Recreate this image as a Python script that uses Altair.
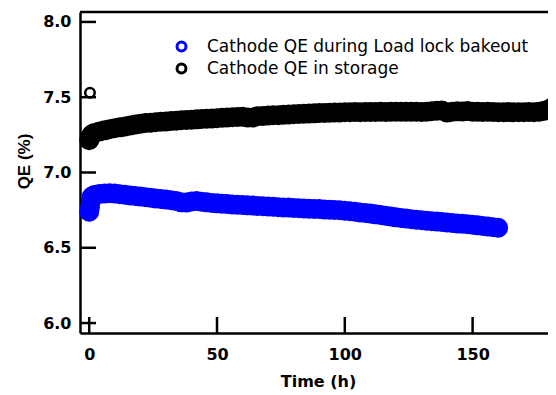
import altair as alt
import pandas as pd

# ---- data ----
blue_t = [0, 0.3, 0.6, 1] + list(range(2, 161, 2))
blue_qe = [6.74, 6.77, 6.81, 6.84,
           6.85, 6.857, 6.86, 6.862, 6.86, 6.856, 6.852, 6.848, 6.844, 6.84,
           6.836, 6.832, 6.828, 6.824, 6.82, 6.816, 6.81, 6.802, 6.80, 6.808,
           6.81, 6.806, 6.802, 6.798, 6.795, 6.793, 6.79, 6.788, 6.786, 6.784,
           6.782, 6.78, 6.778, 6.776, 6.774, 6.772, 6.77, 6.768, 6.767, 6.765,
           6.763, 6.761, 6.76, 6.758, 6.757, 6.755, 6.753, 6.751, 6.749, 6.746,
           6.743, 6.739, 6.735, 6.731, 6.727, 6.722, 6.717, 6.712, 6.707, 6.702,
           6.698, 6.694, 6.69, 6.686, 6.683, 6.68, 6.677, 6.674, 6.671, 6.668,
           6.665, 6.662, 6.659, 6.656, 6.653, 6.649, 6.645, 6.641, 6.637, 6.633]

black_t = [0, 0.3, 0.7, 1.2] + list(range(2, 181, 2)) + [181]
black_qe = [7.215, 7.23, 7.245, 7.255,
            7.262, 7.272, 7.28, 7.287, 7.294, 7.30, 7.306, 7.312, 7.318, 7.324,
            7.328, 7.331, 7.334, 7.337, 7.339, 7.342, 7.344, 7.347, 7.349, 7.351,
            7.353, 7.355, 7.357, 7.359, 7.361, 7.363, 7.365, 7.367, 7.368, 7.37,
            7.366, 7.365, 7.374, 7.376, 7.378, 7.38, 7.381, 7.383, 7.385, 7.387,
            7.389, 7.39, 7.392, 7.393, 7.395, 7.396, 7.397, 7.398, 7.399, 7.40,
            7.40, 7.401, 7.40, 7.402, 7.401, 7.402, 7.403, 7.402, 7.403, 7.404,
            7.403, 7.404, 7.403, 7.404, 7.402, 7.404, 7.407, 7.41, 7.411, 7.398,
            7.404, 7.406, 7.405, 7.408, 7.404, 7.403, 7.402, 7.403, 7.401, 7.40,
            7.40, 7.401, 7.40, 7.40, 7.40, 7.401, 7.40, 7.403, 7.41, 7.42,
            7.43]

outlier_t = [0.3]
outlier_qe = [7.53]

series_names = ["Cathode QE during Load lock bakeout", "Cathode QE in storage"]
series_colors = ["#0000ff", "#000000"]

x_ticks = [0, 50, 100, 150]
y_ticks = [6.0, 6.5, 7.0, 7.5, 8.0]
x_domain = [-3.6, 179.5]
y_domain = [5.934, 8.066]

df = pd.concat([
    pd.DataFrame({"t": blue_t, "qe": blue_qe, "series": series_names[0]}),
    pd.DataFrame({"t": black_t, "qe": black_qe, "series": series_names[1]}),
], ignore_index=True)
df_out = pd.DataFrame({"t": outlier_t, "qe": outlier_qe})
df_xt = pd.DataFrame({"t": x_ticks})
df_yt = pd.DataFrame({"qe": y_ticks})

W, H = 468, 321
xs = alt.Scale(domain=x_domain, nice=False, zero=False)
ys = alt.Scale(domain=y_domain, nice=False, zero=False)

x_axis = alt.Axis(values=x_ticks, title="Time (h)", ticks=False, tickSize=0, grid=False,
                  domainColor="black", domainWidth=2.5, labelFlush=False,
                  labelFont="DejaVu Sans", labelFontWeight="bold", labelFontSize=16,
                  labelColor="black", labelPadding=13,
                  titleFont="DejaVu Sans", titleFontWeight="bold", titleFontSize=16,
                  titleColor="black", titleBaseline="alphabetic", titleX=238, titleY=53)
y_axis = alt.Axis(values=y_ticks, format=".1f", title="QE (%)", ticks=False, tickSize=0,
                  grid=False, domainColor="black", domainWidth=2.5, labelFlush=False,
                  labelFont="DejaVu Sans", labelFontWeight="bold", labelFontSize=16,
                  labelColor="black", labelPadding=9,
                  titleFont="Liberation Sans", titleFontWeight="bold", titleFontSize=17,
                  titleColor="black", titleBaseline="alphabetic", titleX=-51, titleY=149)

X = alt.X("t:Q", scale=xs, axis=x_axis, title="Time (h)")
Y = alt.Y("qe:Q", scale=ys, axis=y_axis, title="QE (%)")

points = alt.Chart(df).mark_point(shape="circle", filled=False, size=100, strokeWidth=10,
                                  opacity=1).encode(
    x=X, y=Y,
    color=alt.Color("series:N",
                    scale=alt.Scale(domain=series_names, range=series_colors),
                    legend=alt.Legend(title=None, orient="none", legendX=93, legendY=26,
                                      symbolType="circle", symbolSize=80,
                                      symbolStrokeWidth=3, labelFont="DejaVu Sans",
                                      labelFontSize=17, labelColor="black",
                                      labelOffset=17, rowPadding=1, padding=0,
                                      labelLimit=500)),
)

outlier = alt.Chart(df_out).mark_point(shape="circle", filled=False, size=90,
                                       strokeWidth=2.5, color="black", opacity=1).encode(
    x=X, y=Y,
)

yticks = alt.Chart(df_yt).mark_rule(color="black", strokeWidth=2.5).encode(
    y=Y, x=alt.value(0), x2=alt.value(16),
)
xticks = alt.Chart(df_xt).mark_rule(color="black", strokeWidth=2.5).encode(
    x=X, y=alt.value(H), y2=alt.value(H - 16),
)
top = alt.Chart(pd.DataFrame({"a": [0]})).mark_rule(color="black", strokeWidth=2.5).encode(
    x=alt.value(0), x2=alt.value(W), y=alt.value(0),
)

chart = alt.layer(points, outlier, yticks, xticks, top).properties(
    width=W, height=H,
    autosize=alt.AutoSizeParams(type="none"),
    padding={"left": 72, "top": 4, "right": 0, "bottom": 57},
).configure_view(stroke=None)

chart.save("out.html", embed_options={"renderer": "svg", "actions": False})
